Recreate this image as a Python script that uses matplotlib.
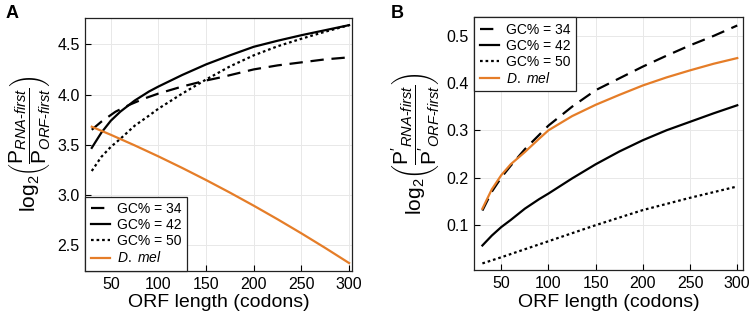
import numpy as np
import matplotlib
matplotlib.use('Agg')
import matplotlib.pyplot as plt

plt.rcParams['font.family'] = ['Liberation Sans', 'DejaVu Sans']
plt.rcParams['mathtext.fontset'] = 'custom'
plt.rcParams['mathtext.rm'] = 'Liberation Sans'
plt.rcParams['mathtext.it'] = 'Liberation Sans:italic'
plt.rcParams['mathtext.bf'] = 'Liberation Sans:bold'

# ---- data ----
labels = ['GC% = 34', 'GC% = 42', 'GC% = 50', 'D. mel']

# panel A
a_x34 = [30, 40, 55, 70, 85, 100, 125, 150, 165, 200, 225, 250, 275, 300]
a_y34 = [3.65, 3.73, 3.83, 3.90, 3.96, 4.01, 4.08, 4.14, 4.17, 4.25, 4.29,
         4.32, 4.35, 4.37]
a_x42 = [30, 40, 50, 60, 75, 90, 100, 125, 150, 175, 200, 225, 250, 275, 300]
a_y42 = [3.47, 3.62, 3.74, 3.83, 3.94, 4.03, 4.08, 4.195, 4.30, 4.39, 4.475,
         4.535, 4.59, 4.64, 4.69]
a_x50 = [30, 40, 50, 60, 75, 90, 100, 125, 150, 175, 200, 225, 250, 275, 300]
a_y50 = [3.24, 3.38, 3.48, 3.56, 3.69, 3.79, 3.86, 4.01, 4.15, 4.28, 4.39,
         4.48, 4.555, 4.625, 4.69]
a_xmel = [30, 50, 75, 100, 125, 150, 175, 200, 225, 250, 275, 300]
a_ymel = [3.68, 3.60, 3.495, 3.385, 3.27, 3.15, 3.025, 2.895, 2.76, 2.62,
          2.475, 2.325]

# panel B
b_x34 = [30, 40, 50, 60, 75, 90, 100, 125, 150, 175, 200, 225, 250, 275, 300]
b_y34 = [0.13, 0.17, 0.20, 0.225, 0.26, 0.29, 0.31, 0.35, 0.385, 0.41, 0.435,
         0.458, 0.48, 0.50, 0.522]
b_x42 = [30, 40, 50, 60, 75, 90, 100, 125, 150, 175, 200, 225, 250, 275, 300]
b_y42 = [0.056, 0.077, 0.095, 0.11, 0.134, 0.154, 0.166, 0.198, 0.228, 0.255,
         0.279, 0.30, 0.318, 0.336, 0.353]
b_x50 = [30, 50, 75, 100, 125, 150, 175, 200, 225, 250, 275, 300]
b_y50 = [0.018, 0.031, 0.048, 0.065, 0.082, 0.099, 0.115, 0.131, 0.144, 0.157,
         0.169, 0.181]
b_xmel = [30, 40, 50, 60, 75, 90, 100, 125, 150, 175, 200, 225, 250, 275, 300]
b_ymel = [0.134, 0.175, 0.205, 0.228, 0.254, 0.282, 0.30, 0.33, 0.354, 0.375,
          0.395, 0.412, 0.427, 0.441, 0.453]

orange = '#E57D28'
styles = [dict(color='black', dashes=(6, 3.5)),
          dict(color='black', linestyle='-'),
          dict(color='black', dashes=(1.2, 1.3)),
          dict(color=orange, linestyle='-')]


def style_ax(ax):
    ax.grid(True, color='#e8e8e8', linewidth=0.7)
    ax.set_axisbelow(True)
    ax.tick_params(direction='in', length=4, width=0.8, labelsize=11.5,
                   top=False, right=False, pad=4)
    for s in ax.spines.values():
        s.set_linewidth(0.9)
        s.set_color('#222222')
    ax.set_xticks([50, 100, 150, 200, 250, 300])
    ax.set_xlabel('ORF length (codons)', fontsize=14, labelpad=2)


fig = plt.figure(figsize=(7.5, 3.15), dpi=100)
axA = fig.add_axes([0.1137, 0.1397, 0.3553, 0.8041])
axB = fig.add_axes([0.632, 0.1413, 0.3593, 0.8047])

seriesA = [(a_x34, a_y34), (a_x42, a_y42), (a_x50, a_y50), (a_xmel, a_ymel)]
seriesB = [(b_x34, b_y34), (b_x42, b_y42), (b_x50, b_y50), (b_xmel, b_ymel)]

for ax, series in [(axA, seriesA), (axB, seriesB)]:
    for (xs, ys), lab, st in zip(series, labels, styles):
        lab = r'$\mathit{D.\ mel}$' if lab == 'D. mel' else lab
        ax.plot(xs, ys, linewidth=1.6, label=lab, **st)
    style_ax(ax)

axA.set_xlim(23.2, 302.8)
axA.set_ylim(2.246, 4.764)
axA.set_yticks([2.5, 3.0, 3.5, 4.0, 4.5])
axA.set_yticklabels(['2.5', '3.0', '3.5', '4.0', '4.5'])

axB.set_xlim(21.1, 306.6)
axB.set_ylim(0.003, 0.540)
axB.set_yticks([0.1, 0.2, 0.3, 0.4, 0.5])

axA.set_ylabel(r'$\mathrm{log}_2\left(\dfrac{\mathrm{P}_{RNA\text{-}first}}'
               r'{\mathrm{P}_{ORF\text{-}first}}\right)$', fontsize=15, labelpad=3)
axB.set_ylabel(r"$\mathrm{log}_2\left(\dfrac{\mathrm{P'}_{RNA\text{-}first}}"
               r"{\mathrm{P'}_{ORF\text{-}first}}\right)$", fontsize=15, labelpad=3)

legkw = dict(fontsize=10, frameon=True, fancybox=False, framealpha=1,
             edgecolor='#222222', borderaxespad=0, handlelength=1.4,
             handletextpad=0.5, labelspacing=0.15, borderpad=0.4)
legA = axA.legend(loc='lower left', **legkw)
legB = axB.legend(loc='upper left', **legkw)
for leg in (legA, legB):
    leg.get_frame().set_linewidth(0.9)

fig.text(0.007, 0.985, 'A', fontsize=13, fontweight='bold', va='top', ha='left')
fig.text(0.521, 0.985, 'B', fontsize=13, fontweight='bold', va='top', ha='left')

plt.savefig('out.png', dpi=100)
plt.close()
